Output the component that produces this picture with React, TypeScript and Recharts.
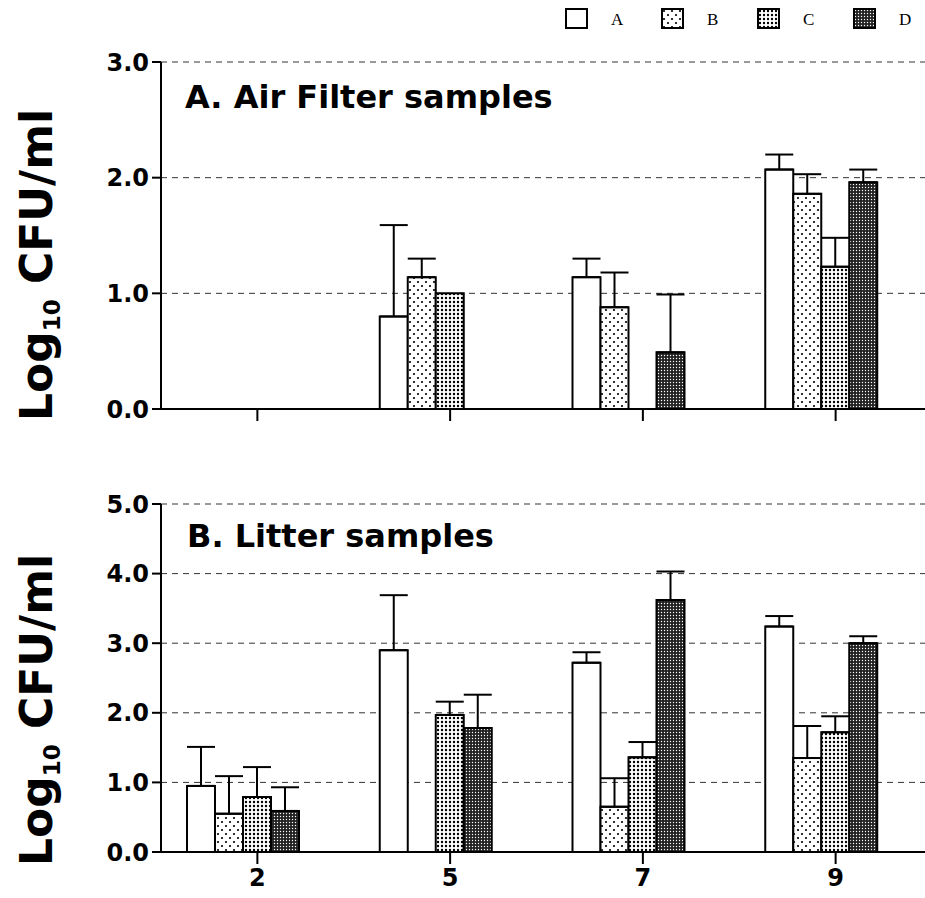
import React from 'react';
import { Bar, BarChart, CartesianGrid, ErrorBar, XAxis, YAxis } from 'recharts';

// sampling days
const days = ['2', '5', '7', '9'];

// A. air filter samples (log10 CFU/ml) and upper SD
const airA = [null, 0.8, 1.14, 2.07];
const airAErr = [null, 0.79, 0.16, 0.13];
const airB = [null, 1.14, 0.88, 1.86];
const airBErr = [null, 0.16, 0.3, 0.17];
const airC = [null, 1.0, null, 1.23];
const airCErr = [null, null, null, 0.25];
const airD = [null, null, 0.49, 1.96];
const airDErr = [null, null, 0.5, 0.11];

// B. litter samples
const litA = [0.95, 2.9, 2.72, 3.24];
const litAErr = [0.56, 0.79, 0.15, 0.15];
const litB = [0.55, null, 0.65, 1.35];
const litBErr = [0.54, null, 0.41, 0.46];
const litC = [0.79, 1.97, 1.36, 1.72];
const litCErr = [0.43, 0.19, 0.22, 0.23];
const litD = [0.59, 1.78, 3.62, 3.0];
const litDErr = [0.34, 0.48, 0.41, 0.1];

const airTicks = [0, 1, 2, 3];
const litTicks = [0, 1, 2, 3, 4, 5];

const legendKeys = ['A', 'B', 'C', 'D'];
const fills: Record<string, string> = {
  A: '#ffffff',
  B: 'url(#patB)',
  C: 'url(#patC)',
  D: 'url(#patD)',
};

function rows(a: any[], ae: any[], b: any[], be: any[], c: any[], ce: any[], d: any[], de: any[]) {
  const up = (e: number | null) => (e == null ? null : [0, e]);
  return days.map((day, i) => ({
    day,
    A: a[i], aErr: up(ae[i]),
    B: b[i], bErr: up(be[i]),
    C: c[i], cErr: up(ce[i]),
    D: d[i], dErr: up(de[i]),
    pad: null, // empty fifth slot of each group in the original figure
  }));
}

const airData = rows(airA, airAErr, airB, airBErr, airC, airCErr, airD, airDErr);
const litData = rows(litA, litAErr, litB, litBErr, litC, litCErr, litD, litDErr);

const font = '"DejaVu Sans", sans-serif';
const tickFont = { fontFamily: font, fontWeight: 700, fontSize: 24, fill: '#000' };
const axisLine = { stroke: '#000', strokeWidth: 2 };
const errKeys: Record<string, string> = { A: 'aErr', B: 'bErr', C: 'cErr', D: 'dErr' };

function Panel({ data, ticks, top, height, marginTop, xHeight, labels }: any) {
  return (
    <div style={{ position: 'absolute', left: 0, top }}>
      <BarChart
        width={932}
        height={height}
        data={data}
        barSize={28}
        barGap={0}
        margin={{ top: marginTop, right: 0, left: 0, bottom: 0 }}
      >
        <CartesianGrid vertical={false} stroke="#333" strokeDasharray="6 5" />
        <XAxis
          dataKey="day"
          height={xHeight}
          axisLine={axisLine}
          tickLine={axisLine}
          tickSize={12}
          tickMargin={5}
          tick={tickFont}
          tickFormatter={labels ? undefined : () => ''}
        />
        <YAxis
          width={161}
          domain={[0, ticks[ticks.length - 1]]}
          ticks={ticks}
          axisLine={axisLine}
          tickLine={axisLine}
          tickSize={9}
          tickMargin={3}
          tick={tickFont}
          tickFormatter={(v: number) => v.toFixed(1)}
        />
        {legendKeys.map((k) => (
          <Bar key={k} dataKey={k} fill={fills[k]} stroke="#000" strokeWidth={2} isAnimationActive={false}>
            <ErrorBar dataKey={errKeys[k]} width={14} stroke="#000" strokeWidth={2} direction="y" />
          </Bar>
        ))}
        <Bar dataKey="pad" fill="none" isAnimationActive={false} />
      </BarChart>
    </div>
  );
}

function YLabel({ cy }: { cy: number }) {
  return (
    <text
      transform={`translate(52,${cy}) rotate(-90)`}
      textAnchor="middle"
      fontFamily={font}
      fontWeight={700}
      fontSize={44}
      fill="#000"
    >
      Log<tspan fontSize={23} dy={8}>10</tspan>
      <tspan dy={-8}> CFU/ml</tspan>
    </text>
  );
}

export default function App() {
  return (
    <div style={{ position: 'absolute', left: 0, top: 0, width: 925, height: 898, overflow: 'hidden', background: '#fff' }}>
      <Panel data={airData} ticks={airTicks} top={0} height={440} marginTop={62} xHeight={31} labels={false} />
      <Panel data={litData} ticks={litTicks} top={440} height={458} marginTop={64} xHeight={46} labels />
      <svg width={925} height={898} style={{ position: 'absolute', left: 0, top: 0, pointerEvents: 'none' }}>
        <defs>
          <pattern id="patB" width={8} height={8} patternUnits="userSpaceOnUse">
            <rect width={8} height={8} fill="#fff" />
            <circle cx={2} cy={2} r={1.1} fill="#000" />
            <circle cx={6} cy={6} r={1.1} fill="#000" />
          </pattern>
          <pattern id="patC" width={4} height={4} patternUnits="userSpaceOnUse">
            <rect width={4} height={4} fill="#fff" />
            <circle cx={2} cy={2} r={1.2} fill="#000" />
          </pattern>
          <pattern id="patD" width={3} height={3} patternUnits="userSpaceOnUse">
            <rect width={3} height={3} fill="#222" />
            <circle cx={1.5} cy={1.5} r={0.7} fill="#fff" />
          </pattern>
        </defs>
        <text x={185} y={108} fontFamily={font} fontWeight={700} fontSize={32} fill="#000">
          A. Air Filter samples
        </text>
        <text x={187} y={547} fontFamily={font} fontWeight={700} fontSize={32} fill="#000">
          B. Litter samples
        </text>
        <YLabel cy={265} />
        <YLabel cy={710} />
        {legendKeys.map((k, i) => (
          <g key={k} transform={`translate(${566 + i * 96},9)`}>
            <rect x={0} y={0} width={21} height={19} fill={fills[k]} stroke="#000" strokeWidth={2} />
            <text x={45} y={16} fontFamily='"Liberation Serif", serif' fontSize={17} fill="#000">
              {k}
            </text>
          </g>
        ))}
      </svg>
    </div>
  );
}
